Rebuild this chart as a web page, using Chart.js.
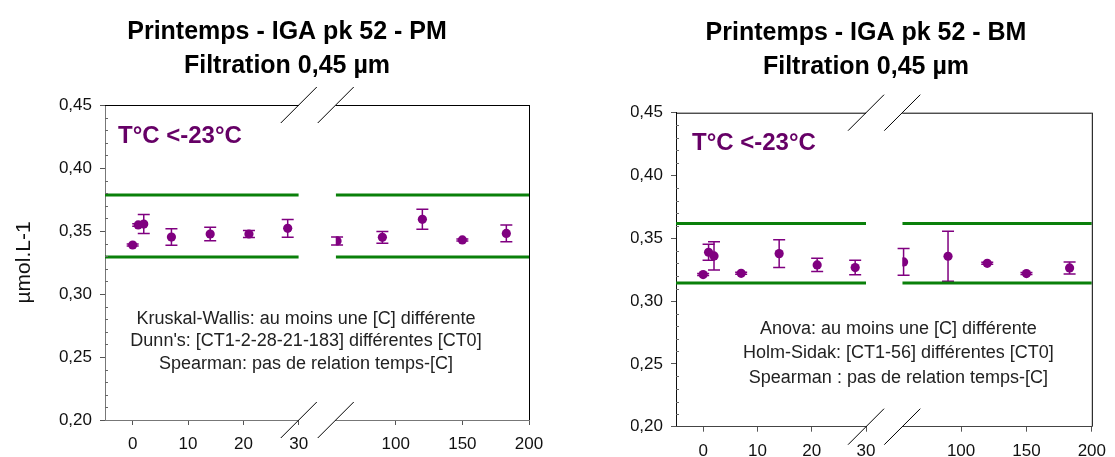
<!DOCTYPE html>
<html>
<head>
<meta charset="utf-8">
<script src="https://cdn.jsdelivr.net/npm/chart.js@4.4.1/dist/chart.umd.min.js"></script>
<style>
  html, body { margin: 0; padding: 0; background: #fff; }
  body { width: 1115px; height: 457px; position: relative; overflow: hidden; }
  .panel { position: absolute; top: 0; }
  #pmPanel { left: 0; width: 605px; height: 457px; }
  #bmPanel { left: 617px; width: 498px; height: 457px; }
</style>
</head>
<body>
<div class="panel" id="pmPanel"><canvas id="pmChart" width="605" height="457"></canvas></div>
<div class="panel" id="bmPanel"><canvas id="bmChart" width="498" height="457"></canvas></div>
<script>
// Sampling days, split over the broken x axis
const daysEarly = [0, 1, 2, 7, 14, 21, 28];
const daysLate = [56, 90, 120, 150, 183];

// PM series (mean +/- error, µmol/L)
const pmMeanEarly = [0.3389, 0.3548, 0.3555, 0.3452, 0.3476, 0.3476, 0.3521];
const pmErrEarly = [0.0008, 0.0010, 0.0075, 0.0065, 0.0053, 0.0028, 0.0070];
const pmMeanLate = [0.3421, 0.3450, 0.3593, 0.3429, 0.3481];
const pmErrLate = [0.0032, 0.0047, 0.0080, 0.0008, 0.0066];
const pmLimits = [0.3294, 0.3786];

// BM series
const bmMeanEarly = [0.3211, 0.3389, 0.3360, 0.3221, 0.3378, 0.3288, 0.3267];
const bmErrEarly = [0.0008, 0.0063, 0.0113, 0.0008, 0.0110, 0.0053, 0.0058];
const bmMeanLate = [0.3312, 0.3357, 0.3301, 0.3219, 0.3264];
const bmErrLate = [0.0106, 0.0199, 0.0008, 0.0008, 0.0048];
const bmLimits = [0.3145, 0.3617];

// Axes
const yTicks = [0.20, 0.25, 0.30, 0.35, 0.40, 0.45];
const xTicksEarly = [0, 10, 20, 30];
const xTicksLate = [100, 150, 200];
const xRangeEarly = [-5, 30];
const xRangeLate = [55, 200];

// Texts
const pmTitle = ['Printemps - IGA pk 52 - PM', 'Filtration 0,45 µm'];
const bmTitle = ['Printemps - IGA pk 52 - BM', 'Filtration 0,45 µm'];
const tempLabel = 'T°C <-23°C';
const yLabel = 'µmol.L-1';
const pmNotes = ['Kruskal-Wallis: au moins une [C] différente', "Dunn's: [CT1-2-28-21-183] différentes [CT0]", 'Spearman: pas de relation temps-[C]'];
const bmNotes = ['Anova: au moins une [C] différente', 'Holm-Sidak: [CT1-56] différentes [CT0]', 'Spearman : pas de relation temps-[C]'];

const FONT = "'Liberation Sans', Arial, sans-serif";
const PURPLE = '#800080';
const GREEN = '#0a800a';

// Draws error bars, frame, axis breaks and text boxes
function makeDecor(p) {
    return {
        id: 'decor',
        beforeDatasetsDraw(chart) {
            const ctx = chart.ctx;
            const y = chart.scales.y;
            const sets = [
                {axis: 'x1', days: daysEarly, mean: p.meanEarly, err: p.errEarly},
                {axis: 'x2', days: daysLate, mean: p.meanLate, err: p.errLate}
            ];
            ctx.save();
            ctx.strokeStyle = PURPLE;
            ctx.lineWidth = 1.5;
            sets.forEach(s => {
                const xs = chart.scales[s.axis];
                s.days.forEach((d, i) => {
                    const px = xs.getPixelForValue(d);
                    const t = y.getPixelForValue(s.mean[i] + s.err[i]);
                    const b = y.getPixelForValue(s.mean[i] - s.err[i]);
                    ctx.beginPath();
                    ctx.moveTo(px, t); ctx.lineTo(px, b);
                    ctx.moveTo(px - 6, t); ctx.lineTo(px + 6, t);
                    ctx.moveTo(px - 6, b); ctx.lineTo(px + 6, b);
                    ctx.stroke();
                });
            });
            ctx.restore();
        },
        afterDraw(chart) {
            const ctx = chart.ctx;
            const area = chart.chartArea;
            const y = chart.scales.y;
            const endA = chart.scales.x1.getPixelForValue(xRangeEarly[1]);
            const startB = chart.scales.x2.getPixelForValue(xRangeLate[0]);
            ctx.save();

            // top and right frame
            ctx.strokeStyle = '#000';
            ctx.lineWidth = 1;
            ctx.beginPath();
            ctx.moveTo(area.left, area.top + 0.5); ctx.lineTo(endA, area.top + 0.5);
            ctx.moveTo(startB, area.top + 0.5); ctx.lineTo(area.right, area.top + 0.5);
            ctx.moveTo(area.right + 0.5, area.top); ctx.lineTo(area.right + 0.5, area.bottom);
            ctx.stroke();

            // break marks
            ctx.beginPath();
            [endA, startB].forEach(cx => {
                [area.top, area.bottom].forEach(cy => {
                    ctx.moveTo(cx - 18, cy + 18);
                    ctx.lineTo(cx + 18, cy - 18);
                });
            });
            ctx.stroke();

            // minor y ticks
            ctx.strokeStyle = '#666';
            ctx.beginPath();
            for (let i = 0; i < yTicks.length - 1; i++) {
                for (let k = 1; k < 5; k++) {
                    const py = Math.round(y.getPixelForValue(yTicks[i] + k * 0.01)) + 0.5;
                    ctx.moveTo(area.left, py);
                    ctx.lineTo(area.left + 3, py);
                }
            }
            ctx.stroke();

            // temperature label
            ctx.fillStyle = '#660066';
            ctx.font = 'bold 24px ' + FONT;
            ctx.textAlign = 'left';
            ctx.textBaseline = 'alphabetic';
            ctx.fillText(tempLabel, area.left + p.tempDx, area.top + p.tempDy);

            // statistics notes
            ctx.fillStyle = '#222';
            ctx.font = '18px ' + FONT;
            ctx.textAlign = 'center';
            ctx.textBaseline = 'middle';
            const cx = (area.left + area.right) / 2 + p.notesDx;
            p.notes.forEach((line, i) => {
                ctx.fillText(line, cx, area.bottom + p.notesDy + i * p.notesGap);
            });
            ctx.restore();
        }
    };
}

function xScale(range, ticks, weight, p) {
    return {
        type: 'linear',
        position: 'bottom',
        stack: 'x',
        stackWeight: weight,
        min: range[0],
        max: range[1],
        afterBuildTicks: s => { s.ticks = ticks.map(v => ({value: v})); },
        afterFit: s => { s.height = p.xAxisHeight; },
        grid: {drawOnChartArea: false, tickLength: 5, color: '#555'},
        border: {display: true, color: p.bottomColor, width: 1},
        ticks: {
            autoSkip: false, maxRotation: 0, padding: 9,
            color: '#111', font: {family: FONT, size: 17}
        }
    };
}

function buildPanel(canvasId, p) {
    const ctx = document.getElementById(canvasId).getContext('2d');
    const pts = (days, mean) => days.map((d, i) => ({x: d, y: mean[i]}));
    const lim = (range, v) => range.map(x => ({x: x, y: v}));
    const limitStyle = {showLine: true, borderColor: GREEN, borderWidth: 3, pointRadius: 0, yAxisID: 'y'};
    const pointStyle = {backgroundColor: PURPLE, borderWidth: 0, pointRadius: 4.6, yAxisID: 'y'};

    return new Chart(ctx, {
        type: 'scatter',
        data: {
            datasets: [
                Object.assign({xAxisID: 'x1', data: lim(xRangeEarly, p.limits[0])}, limitStyle),
                Object.assign({xAxisID: 'x1', data: lim(xRangeEarly, p.limits[1])}, limitStyle),
                Object.assign({xAxisID: 'x2', data: lim(xRangeLate, p.limits[0])}, limitStyle),
                Object.assign({xAxisID: 'x2', data: lim(xRangeLate, p.limits[1])}, limitStyle),
                Object.assign({xAxisID: 'x1', data: pts(daysEarly, p.meanEarly)}, pointStyle),
                Object.assign({xAxisID: 'x2', data: pts(daysLate, p.meanLate)}, pointStyle)
            ]
        },
        options: {
            responsive: false,
            animation: false,
            layout: {padding: {left: p.padLeft, right: p.padRight, top: 0, bottom: 0}},
            plugins: {
                legend: {display: false},
                tooltip: {enabled: false},
                title: {
                    display: true,
                    text: p.title,
                    color: '#000',
                    font: {family: FONT, size: 25, weight: 'bold', lineHeight: 1.36},
                    padding: {top: p.titleTop, bottom: p.titleBottom}
                }
            },
            scales: {
                y: {
                    type: 'linear',
                    position: 'left',
                    min: yTicks[0],
                    max: yTicks[yTicks.length - 1],
                    afterBuildTicks: s => { s.ticks = yTicks.map(v => ({value: v})); },
                    afterFit: s => { s.width = p.yAxisWidth; },
                    grid: {drawOnChartArea: false, tickLength: 5, color: '#555'},
                    border: {display: true, color: p.leftColor, width: 1},
                    ticks: {
                        padding: 8, color: '#111',
                        font: {family: FONT, size: 17},
                        callback: v => v.toFixed(2).replace('.', ',')
                    },
                    title: {
                        display: p.showYLabel,
                        text: yLabel,
                        color: '#111',
                        font: {family: FONT, size: 21, lineHeight: 1.2},
                        // label sits left of the padded area, so offset is negative
                        padding: {top: 11.4 - p.padLeft, bottom: 0}
                    }
                },
                x1: xScale(xRangeEarly, xTicksEarly, 194, p),
                xg: {
                    type: 'linear', position: 'bottom', stack: 'x', stackWeight: 37,
                    grid: {display: false}, ticks: {display: false}, border: {display: false}
                },
                x2: xScale(xRangeLate, xTicksLate, 193.5, p)
            }
        },
        plugins: [makeDecor(p)]
    });
}

window.onload = function() {
    buildPanel('pmChart', {
        title: pmTitle, notes: pmNotes, limits: pmLimits,
        meanEarly: pmMeanEarly, errEarly: pmErrEarly, meanLate: pmMeanLate, errLate: pmErrLate,
        padLeft: 45, padRight: 76, yAxisWidth: 60, xAxisHeight: 37, titleTop: 15, titleBottom: 22,
        showYLabel: true, leftColor: '#777', bottomColor: '#777',
        tempDx: 13, tempDy: 38, notesDx: -11, notesDy: -101, notesGap: 22.5
    });
    buildPanel('bmChart', {
        title: bmTitle, notes: bmNotes, limits: bmLimits,
        meanEarly: bmMeanEarly, errEarly: bmErrEarly, meanLate: bmMeanLate, errLate: bmErrLate,
        padLeft: 14, padRight: 14, yAxisWidth: 45, xAxisHeight: 30.3, titleTop: 16.5, titleBottom: 28.2,
        showYLabel: false, leftColor: '#111', bottomColor: '#444',
        tempDx: 16, tempDy: 37, notesDx: 14.5, notesDy: -97.7, notesGap: 24.5
    });
};
</script>
</body>
</html>
